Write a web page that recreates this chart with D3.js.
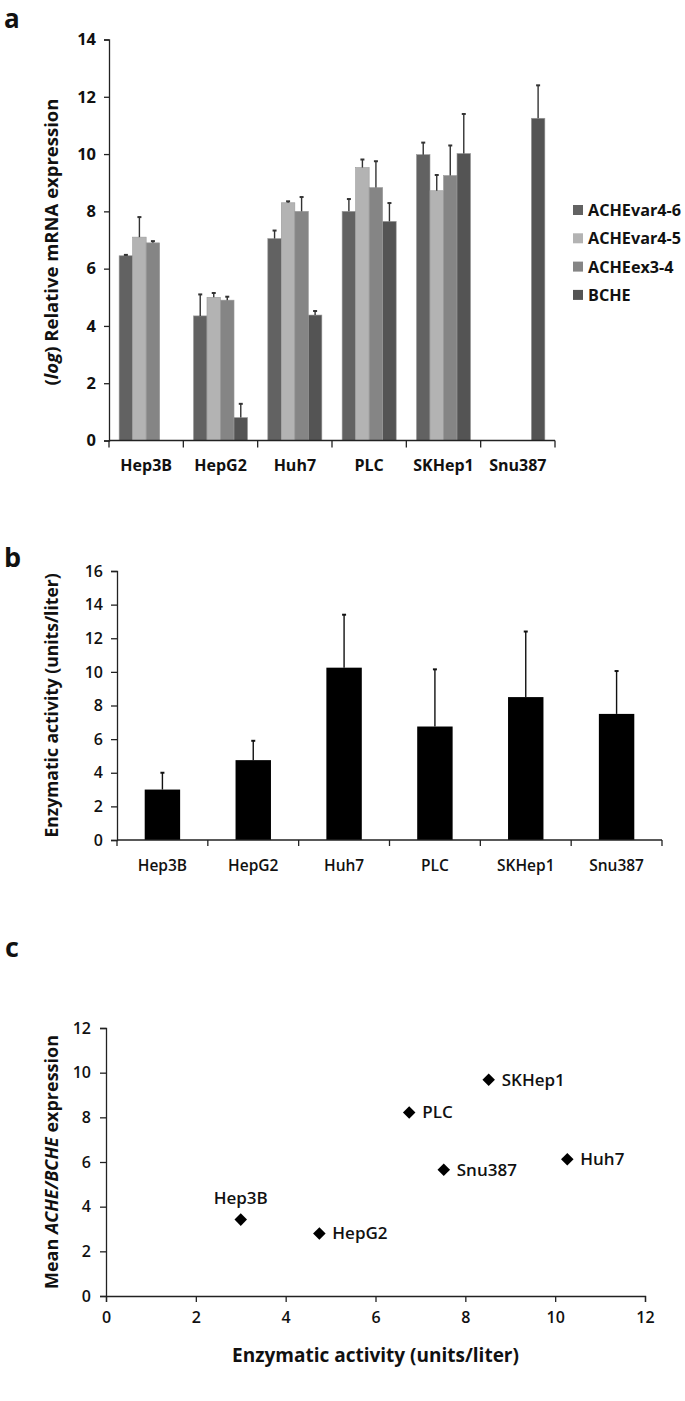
<!DOCTYPE html>
<html><head><meta charset="utf-8">
<script src="https://cdn.jsdelivr.net/npm/d3@7"></script>
<style>
body{margin:0;background:#fff;}
svg text{font-family:"Open Sans","Noto Sans",sans-serif;fill:#111;}
</style></head>
<body>
<svg id="chart" width="685" height="1401"></svg>
<script>
// ---------- DATA ----------
const cellLines = ["Hep3B","HepG2","Huh7","PLC","SKHep1","Snu387"];
const mrnaSeries = ["ACHEvar4-6","ACHEvar4-5","ACHEex3-4","BCHE"];
const mrnaColors = ["#626262","#b3b3b3","#858585","#545454"];
// values per series (null = not shown)
const var46 = [6.45, 4.35, 7.05, 8.0, 9.98, null];
const var46Err = [0.03, 0.75, 0.28, 0.43, 0.42, null];
const var45 = [7.1, 5.0, 8.3, 9.53, 8.72, null];
const var45Err = [0.7, 0.15, 0.05, 0.28, 0.55, null];
const ex34 = [6.9, 4.9, 8.0, 8.83, 9.25, null];
const ex34Err = [0.06, 0.12, 0.5, 0.92, 1.05, null];
const bche = [null, 0.8, 4.38, 7.65, 10.02, 11.25];
const bcheErr = [null, 0.48, 0.14, 0.64, 1.38, 1.15];
const mrnaTicks = [0,2,4,6,8,10,12,14];

const activity = [3.0, 4.75, 10.25, 6.75, 8.5, 7.5];
const activityErr = [1.0, 1.15, 3.15, 3.4, 3.9, 2.55];
const activityTicks = [0,2,4,6,8,10,12,14,16];

const scatterX = [3.0, 4.75, 10.27, 6.75, 8.52, 7.52];
const scatterY = [3.42, 2.8, 6.12, 8.22, 9.68, 5.65];
const scatterTicks = [0,2,4,6,8,10,12];

const svg = d3.select("#chart");
const FONT_B = 700;

function styleAxis(g){
  g.selectAll("path.domain").attr("stroke","#222").attr("stroke-width",1.3);
  g.selectAll(".tick line").attr("stroke","#222").attr("stroke-width",1.3);
  g.selectAll("text").attr("fill","#111");
}

// ---------- PANEL A ----------
(function(){
  const L=109, R=555, T=39.5, B=440.5;
  const x = d3.scaleBand().domain(cellLines).range([L,R]).paddingInner(0).paddingOuter(0);
  const x1 = d3.scaleBand().domain(mrnaSeries).range([0,x.bandwidth()]).paddingInner(0).paddingOuter(0.75);
  const y = d3.scaleLinear().domain([0,14]).range([B,T]);
  const vals = [var46,var45,ex34,bche];
  const errs = [var46Err,var45Err,ex34Err,bcheErr];
  const color = d3.scaleOrdinal().domain(mrnaSeries).range(mrnaColors);

  svg.append("text").attr("x",4).attr("y",28).attr("font-size",26).attr("font-weight",FONT_B).text("a");

  const data=[];
  mrnaSeries.forEach((s,si)=>cellLines.forEach((c,ci)=>{
    if(vals[si][ci]!=null) data.push({s,c,v:vals[si][ci],e:errs[si][ci]});
  }));
  const g = svg.append("g");
  g.selectAll("rect").data(data).join("rect")
    .attr("x",d=>x(d.c)+x1(d.s)).attr("width",x1.bandwidth())
    .attr("y",d=>y(d.v)).attr("height",d=>B-y(d.v))
    .attr("fill",d=>color(d.s)).attr("stroke","#9a9a9a").attr("stroke-width",0.6);
  const eg = svg.append("g").attr("stroke","#333").attr("stroke-width",1.4);
  data.forEach(d=>{
    const cx = x(d.c)+x1(d.s)+x1.bandwidth()/2;
    eg.append("line").attr("x1",cx).attr("x2",cx).attr("y1",y(d.v)).attr("y2",y(d.v+d.e));
    eg.append("line").attr("x1",cx-2).attr("x2",cx+2).attr("y1",y(d.v+d.e)).attr("y2",y(d.v+d.e)).attr("stroke-width",2);
  });

  const ya = svg.append("g").attr("transform",`translate(${L},0)`)
    .call(d3.axisLeft(y).tickValues(mrnaTicks).tickSize(5).tickPadding(8));
  ya.selectAll("text").attr("font-size",16.5).attr("font-weight",FONT_B);
  styleAxis(ya);
  const xa = svg.append("g").attr("transform",`translate(0,${B})`)
    .call(d3.axisBottom(x).tickSize(0).tickPadding(19));
  xa.selectAll("text").attr("font-size",16).attr("font-weight",FONT_B);
  styleAxis(xa);
  xa.select("path.domain").attr("d",`M${L},0H${R}`);
  xa.selectAll(null).data(d3.range(cellLines.length+1)).join("line")
    .attr("x1",i=>L+i*x.bandwidth()).attr("x2",i=>L+i*x.bandwidth())
    .attr("y1",0).attr("y2",7).attr("stroke","#222").attr("stroke-width",1.3);

  const lab = svg.append("text").attr("transform",`translate(58,${(T+B)/2+2}) rotate(-90)`)
    .attr("text-anchor","middle").attr("font-size",18.5).attr("font-weight",FONT_B);
  lab.append("tspan").text("(");
  lab.append("tspan").attr("font-style","italic").text("log");
  lab.append("tspan").text(") Relative mRNA expression");

  const lg = svg.append("g");
  mrnaSeries.forEach((s,i)=>{
    const yy = 210 + i*28.3;
    lg.append("rect").attr("x",573).attr("y",yy-5).attr("width",10).attr("height",10).attr("fill",mrnaColors[i]);
    lg.append("text").attr("x",588).attr("y",yy+6).attr("font-size",16.2).attr("font-weight",FONT_B).text(s);
  });
})();

// ---------- PANEL B ----------
(function(){
  const L=117, R=662, T=571, B=840;
  const x = d3.scaleBand().domain(cellLines).range([L,R]).paddingInner(0.61).paddingOuter(0.305);
  const xb = d3.scaleBand().domain(cellLines).range([L,R]);
  const y = d3.scaleLinear().domain([0,16]).range([B,T]);

  svg.append("text").attr("x",4).attr("y",567).attr("font-size",27).attr("font-weight",FONT_B).text("b");

  svg.append("g").selectAll("rect").data(cellLines).join("rect")
    .attr("x",c=>x(c)).attr("width",x.bandwidth())
    .attr("y",(c,i)=>y(activity[i])).attr("height",(c,i)=>B-y(activity[i]))
    .attr("fill","#000");
  const eg = svg.append("g").attr("stroke","#111").attr("stroke-width",1.4);
  cellLines.forEach((c,i)=>{
    const cx = x(c)+x.bandwidth()/2, top=y(activity[i]+activityErr[i]);
    eg.append("line").attr("x1",cx).attr("x2",cx).attr("y1",y(activity[i])).attr("y2",top);
    eg.append("line").attr("x1",cx-2).attr("x2",cx+2).attr("y1",top).attr("y2",top).attr("stroke-width",2);
  });

  const ya = svg.append("g").attr("transform",`translate(${L},0)`)
    .call(d3.axisLeft(y).tickValues(activityTicks).tickSize(6).tickPadding(8));
  ya.selectAll("text").attr("font-size",16).attr("font-weight",600);
  styleAxis(ya);
  const xa = svg.append("g").attr("transform",`translate(0,${B})`)
    .call(d3.axisBottom(xb).tickSize(0).tickPadding(20));
  xa.selectAll("text").attr("font-size",15.5).attr("font-weight",600);
  styleAxis(xa);
  xa.select("path.domain").attr("d",`M${L},0H${R}`);
  xa.selectAll(null).data(d3.range(cellLines.length+1)).join("line")
    .attr("x1",i=>L+i*xb.bandwidth()).attr("x2",i=>L+i*xb.bandwidth())
    .attr("y1",0).attr("y2",6).attr("stroke","#222").attr("stroke-width",1.3);

  svg.append("text").attr("transform",`translate(58,${(T+B)/2}) rotate(-90)`)
    .attr("text-anchor","middle").attr("font-size",17.5).attr("font-weight",FONT_B)
    .text("Enzymatic activity (units/liter)");
})();

// ---------- PANEL C ----------
(function(){
  const L=106, R=645, T=1028, B=1296;
  const x = d3.scaleLinear().domain([0,12]).range([L,R]);
  const y = d3.scaleLinear().domain([0,12]).range([B,T]);

  svg.append("text").attr("x",5).attr("y",957).attr("font-size",27).attr("font-weight",FONT_B).text("c");

  const pts = cellLines.map((c,i)=>({c,x:scatterX[i],y:scatterY[i]}));
  svg.append("g").selectAll("path").data(pts).join("path")
    .attr("d",d3.symbol().type(d3.symbolDiamond2).size(100))
    .attr("transform",d=>`translate(${x(d.x)},${y(d.y)})`).attr("fill","#000");
  svg.append("g").selectAll("text").data(pts).join("text")
    .attr("x",d=>d.c==="Hep3B"?x(d.x):x(d.x)+13)
    .attr("y",d=>d.c==="Hep3B"?y(d.y)-16:y(d.y)+6)
    .attr("text-anchor",d=>d.c==="Hep3B"?"middle":"start")
    .attr("font-size",17).attr("font-weight",600).text(d=>d.c);

  const ya = svg.append("g").attr("transform",`translate(${L},0)`)
    .call(d3.axisLeft(y).tickValues(scatterTicks).tickSize(6).tickPadding(9));
  ya.selectAll("text").attr("font-size",16).attr("font-weight",600);
  styleAxis(ya);
  const xa = svg.append("g").attr("transform",`translate(0,${B})`)
    .call(d3.axisBottom(x).tickValues(scatterTicks).tickSize(6).tickPadding(10));
  xa.selectAll("text").attr("font-size",16).attr("font-weight",600);
  styleAxis(xa);

  const lab = svg.append("text").attr("transform",`translate(58,${(T+B)/2}) rotate(-90)`)
    .attr("text-anchor","middle").attr("font-size",18).attr("font-weight",FONT_B);
  lab.append("tspan").text("Mean ");
  lab.append("tspan").attr("font-style","italic").text("ACHE/BCHE");
  lab.append("tspan").text(" expression");

  svg.append("text").attr("x",(L+R)/2).attr("y",1362).attr("text-anchor","middle")
    .attr("font-size",19).attr("font-weight",FONT_B).text("Enzymatic activity (units/liter)");
})();
</script>
</body></html>
